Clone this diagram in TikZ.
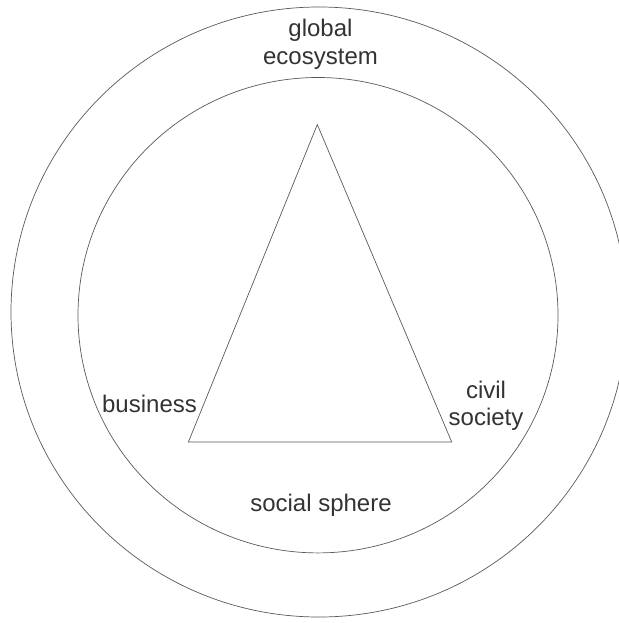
\documentclass[tikz,border=0pt]{standalone}
\usepackage{fontspec}
\setmainfont{Liberation Sans}
\definecolor{linec}{HTML}{5A5A5A}
\definecolor{textc}{HTML}{333333}
\tikzset{
  ring/.style={draw=linec, line width=0.7pt},
  tri/.style={draw=linec, line width=0.7pt},
  lbl/.style={text=textc, inner sep=0pt, align=center, anchor=base,
    font=\fontsize{24}{27.5}\selectfont}
}
\begin{document}
\begin{tikzpicture}[x=1pt,y=-1pt]
\useasboundingbox (0,0) rectangle (618,623);
\fill[white] (0,0) rectangle (618,623);
\draw[ring] (319,312) ellipse [x radius=308pt, y radius=305pt];
\draw[ring] (318,315.2) ellipse [x radius=240pt, y radius=237.7pt];
\coordinate (apex) at (317.3,124.6);
\coordinate (bl) at (188.4,442);
\coordinate (br) at (451.7,442);
\draw[tri] (apex) -- (bl) -- (br) -- cycle;
\node[lbl] (global) at (320.5,64.5) {global\\ecosystem};
\node[lbl] (business) at (149.5,412.5) {business};
\node[lbl] (civil) at (486,425.5) {civil\\society};
\node[lbl] (social) at (321,511) {social sphere};
\end{tikzpicture}
\end{document}
